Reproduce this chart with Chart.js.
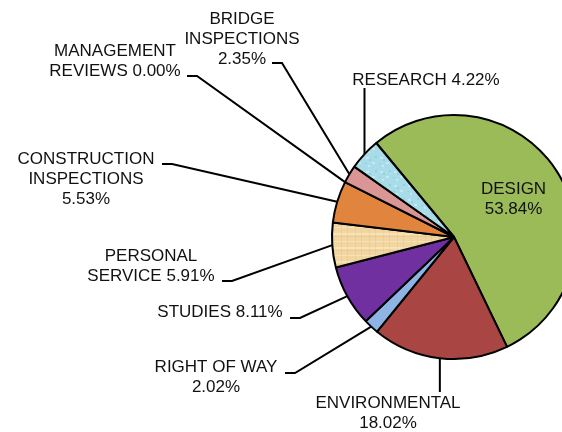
<!DOCTYPE html>
<html>
<head>
<meta charset="utf-8">
<script src="https://cdn.jsdelivr.net/npm/chart.js@4.4.1/dist/chart.umd.min.js"></script>
<style>
  html, body { margin: 0; padding: 0; background: #fff; overflow: hidden; }
</style>
</head>
<body>
<canvas id="chartPie" width="562" height="432"></canvas>
<script>
const categories = ["DESIGN", "ENVIRONMENTAL", "RIGHT OF WAY", "STUDIES", "PERSONAL SERVICE",
                    "CONSTRUCTION INSPECTIONS", "MANAGEMENT REVIEWS", "BRIDGE INSPECTIONS", "RESEARCH"];
const shares = [53.84, 18.02, 2.02, 8.11, 5.91, 5.53, 0.00, 2.35, 4.22];
// how each label is broken into lines, {p} is the percentage
const labelLines = [
  ["DESIGN", "{p}"],
  ["ENVIRONMENTAL", "{p}"],
  ["RIGHT OF WAY", "{p}"],
  ["STUDIES {p}"],
  ["PERSONAL", "SERVICE {p}"],
  ["CONSTRUCTION", "INSPECTIONS", "{p}"],
  ["MANAGEMENT", "REVIEWS {p}"],
  ["BRIDGE", "INSPECTIONS", "{p}"],
  ["RESEARCH {p}"]
];

// text anchor (centre x, first baseline) and leader elbow for every label
const labelLayout = [
  {inside: true, at: 0.58},
  {tx: 388, ty: 408, vertical: true, ly: 392},
  {tx: 216, ty: 372, lx: 295, ly: 373},
  {tx: 220, ty: 317, lx: 300, ly: 318},
  {tx: 151, ty: 261, lx: 232, ly: 281},
  {tx: 86, ty: 164, lx: 172, ly: 164},
  {tx: 115, ty: 56, lx: 197, ly: 76},
  {tx: 242, ty: 24, lx: 282, ly: 63},
  {tx: 426, ty: 85, vertical: true, ly: 88}
];

const canvas = document.getElementById("chartPie");
const ctx = canvas.getContext("2d");

function makePattern(base, draw) {
  const c = document.createElement("canvas");
  c.width = 14; c.height = 14;
  const g = c.getContext("2d");
  g.fillStyle = base;
  g.fillRect(0, 0, 14, 14);
  draw(g);
  return ctx.createPattern(c, "repeat");
}

const papyrus = makePattern("#f2d6a2", g => {
  g.fillStyle = "rgba(255,236,198,0.55)";
  g.fillRect(0, 3, 14, 1);
  g.fillRect(0, 9, 14, 2);
  g.fillStyle = "rgba(200,165,110,0.18)";
  g.fillRect(5, 0, 1, 14);
  g.fillRect(11, 0, 1, 14);
  g.fillRect(0, 12, 14, 1);
});

const droplets = makePattern("#a8dce8", g => {
  g.fillStyle = "rgba(255,255,255,0.35)";
  g.fillRect(2, 3, 3, 2);
  g.fillRect(8, 8, 3, 2);
  g.fillRect(4, 11, 2, 2);
  g.fillStyle = "rgba(110,175,195,0.3)";
  g.fillRect(5, 5, 2, 2);
  g.fillRect(11, 2, 2, 2);
  g.fillRect(1, 9, 2, 1);
});

const colors = ["#9bbb59", "#a94643", "#8db4e2", "#7030a0", papyrus,
                "#e0843e", "#4f81bd", "#d99694", droplets];

const leaderPlugin = {
  id: "leaders",
  afterDatasetsDraw(chart) {
    const c = chart.ctx;
    const meta = chart.getDatasetMeta(0);
    c.save();
    c.font = '17px "Liberation Sans", Arial, sans-serif';
    c.fillStyle = "#111";
    c.strokeStyle = "#000";
    c.lineWidth = 2;
    c.textAlign = "center";
    c.textBaseline = "alphabetic";
    meta.data.forEach((arc, i) => {
      const p = arc.getProps(["x", "y", "startAngle", "endAngle", "outerRadius"], true);
      const mid = (p.startAngle + p.endAngle) / 2;
      const lay = labelLayout[i];
      const text = labelLines[i].map(s => s.replace("{p}", shares[i].toFixed(2) + "%"));
      let tx = lay.tx, ty = lay.ty;
      if (lay.inside) {
        tx = p.x + Math.cos(mid) * p.outerRadius * lay.at;
        ty = p.y + Math.sin(mid) * p.outerRadius * lay.at - 5;
      } else {
        const ex = p.x + Math.cos(mid) * p.outerRadius;
        const ey = p.y + Math.sin(mid) * p.outerRadius;
        c.beginPath();
        c.moveTo(ex, ey);
        if (lay.vertical) {
          c.lineTo(ex, lay.ly);
        } else {
          c.lineTo(lay.lx, lay.ly);
          c.lineTo(lay.lx - 10, lay.ly);
        }
        c.stroke();
      }
      text.forEach((t, k) => c.fillText(t, tx, ty + k * 20));
    });
    c.restore();
  }
};

new Chart(canvas, {
  type: "pie",
  data: {
    labels: categories,
    datasets: [{
      data: shares,
      backgroundColor: colors,
      borderColor: "#000",
      borderWidth: 2,
      clip: false
    }]
  },
  options: {
    responsive: false,
    animation: false,
    devicePixelRatio: 1,
    rotation: -39.6,
    radius: 122,
    layout: {padding: {left: 346, right: 0, top: 42, bottom: 0}},
    plugins: {
      legend: {display: false},
      tooltip: {enabled: false}
    }
  },
  plugins: [leaderPlugin]
});
</script>
</body>
</html>
